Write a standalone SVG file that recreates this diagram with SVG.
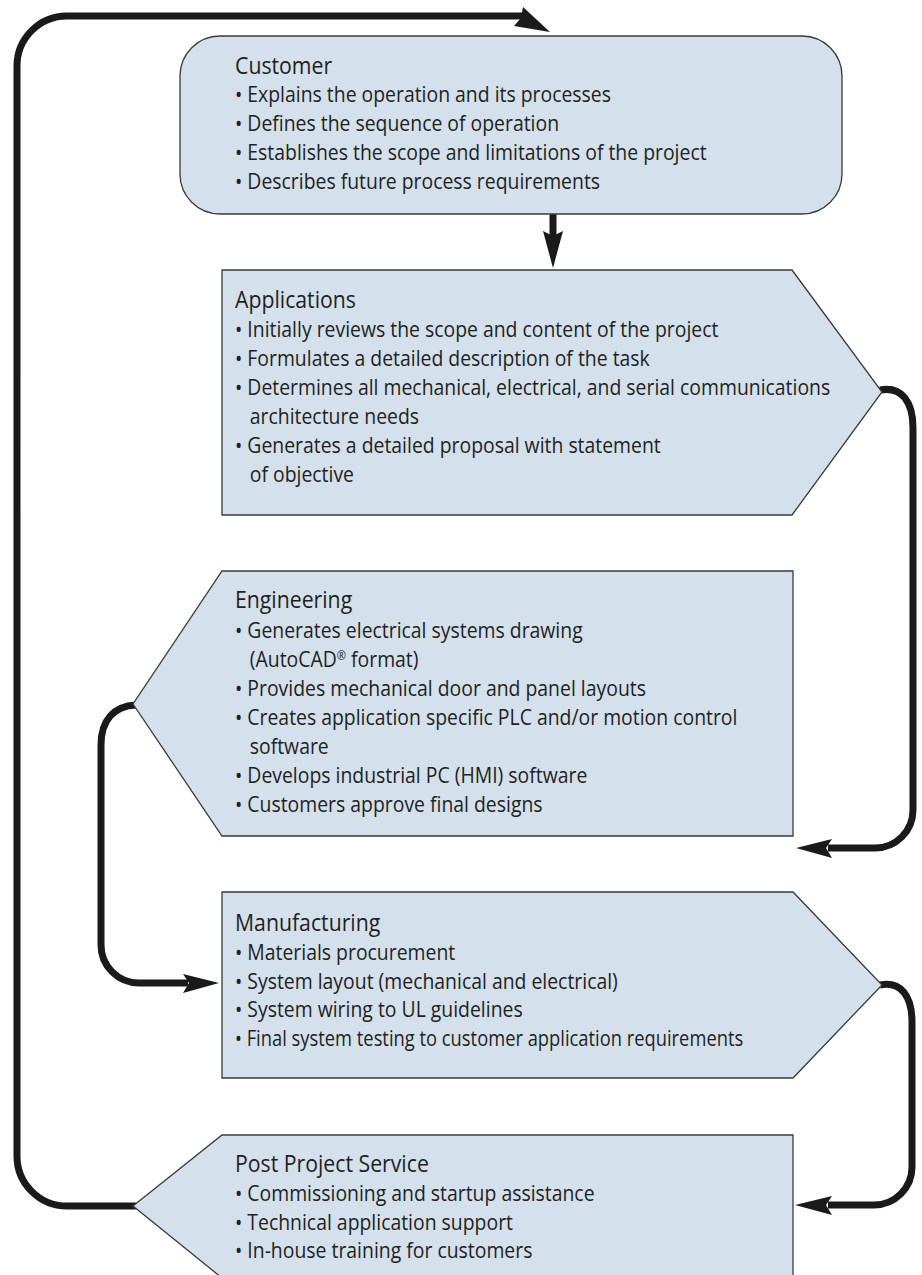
<svg xmlns="http://www.w3.org/2000/svg" width="922" height="1275" viewBox="0 0 922 1275">
<style>
.box{fill:#d4e1ec;stroke:#3a3a3a;stroke-width:1.3}
.t{font-family:"Open Sans","Liberation Sans",sans-serif;font-size:21px;fill:#231f20}
.h{font-family:"Open Sans","Liberation Sans",sans-serif;font-size:23px;fill:#231f20}
.c{fill:none;stroke:#1a1a1a;stroke-width:7}
.ah{fill:#1a1a1a}
</style>
<rect width="922" height="1275" fill="#ffffff"/>
<g id="connectors">
<path class="c" d="M 136 1206 H 67 A 50 50 0 0 1 17 1156 V 66 A 50 50 0 0 1 67 16 H 522"/>
<polygon class="ah" points="523,7 550,32 514,26 521,18"/>
<path class="c" d="M 553 214 V 236"/>
<polygon class="ah" points="543,231 553,236 563,231 553,268"/>
<path class="c" d="M 880 390 C 902 386, 913 402, 913 428 V 810 A 38 38 0 0 1 875 848 H 828"/>
<polygon class="ah" points="796,848 832,839 826,848 832,858"/>
<path class="c" d="M 136 705 C 114 706, 101 720, 101 745 V 945 A 38 38 0 0 0 139 983 H 188"/>
<polygon class="ah" points="219,983 183,974 189,983 183,993"/>
<path class="c" d="M 880 985 C 901 981, 912 996, 912 1022 V 1167 A 38 38 0 0 1 874 1205 H 828"/>
<polygon class="ah" points="795,1205 832,1196 826,1205 832,1215"/>
</g>
<g id="customer">
<rect class="box" x="180" y="36" width="662" height="178" rx="40" ry="40"/>
<g transform="translate(235 0) scale(0.924 1)">
<text class="h" x="0" y="74">Customer</text>
<text class="t" x="0" y="102">• Explains the operation and its processes</text>
<text class="t" x="0" y="131">• Defines the sequence of operation</text>
<text class="t" x="0" y="160">• Establishes the scope and limitations of the project</text>
<text class="t" x="0" y="189">• Describes future process requirements</text>
</g>
</g>
<g id="applications">
<polygon class="box" points="222,270 792,270 882,392 792,515 222,515"/>
<g transform="translate(235 0) scale(0.924 1)">
<text class="h" x="0" y="308">Applications</text>
<text class="t" x="0" y="337">• Initially reviews the scope and content of the project</text>
<text class="t" x="0" y="366">• Formulates a detailed description of the task</text>
<text class="t" x="0" y="395">• Determines all mechanical, electrical, and serial communications</text>
<text class="t" x="16" y="424">architecture needs</text>
<text class="t" x="0" y="453">• Generates a detailed proposal with statement</text>
<text class="t" x="16" y="482">of objective</text>
</g>
</g>
<g id="engineering">
<polygon class="box" points="222,571 793,571 793,836 222,836 133,704"/>
<g transform="translate(235 0) scale(0.924 1)">
<text class="h" x="0" y="608">Engineering</text>
<text class="t" x="0" y="638">• Generates electrical systems drawing</text>
<text class="t" x="16" y="667">(AutoCAD<tspan font-size="12" dy="-7">®</tspan><tspan dy="7"> format)</tspan></text>
<text class="t" x="0" y="696">• Provides mechanical door and panel layouts</text>
<text class="t" x="0" y="725">• Creates application specific PLC and/or motion control</text>
<text class="t" x="16" y="754">software</text>
<text class="t" x="0" y="783">• Develops industrial PC (HMI) software</text>
<text class="t" x="0" y="812">• Customers approve final designs</text>
</g>
</g>
<g id="manufacturing">
<polygon class="box" points="222,892 793,892 882,985 793,1078 222,1078"/>
<g transform="translate(235 0) scale(0.924 1)">
<text class="h" x="0" y="931">Manufacturing</text>
<text class="t" x="0" y="960">• Materials procurement</text>
<text class="t" x="0" y="989">• System layout (mechanical and electrical)</text>
<text class="t" x="0" y="1017">• System wiring to UL guidelines</text>
<text class="t" x="0" y="1046" textLength="550" lengthAdjust="spacingAndGlyphs">• Final system testing to customer application requirements</text>
</g>
</g>
<g id="post-project-service">
<polygon class="box" points="222,1135 793,1135 793,1278 222,1278 133,1206"/>
<g transform="translate(235 0) scale(0.924 1)">
<text class="h" x="0" y="1172">Post Project Service</text>
<text class="t" x="0" y="1201">• Commissioning and startup assistance</text>
<text class="t" x="0" y="1230">• Technical application support</text>
<text class="t" x="0" y="1258">• In-house training for customers</text>
</g>
</g>
</svg>
